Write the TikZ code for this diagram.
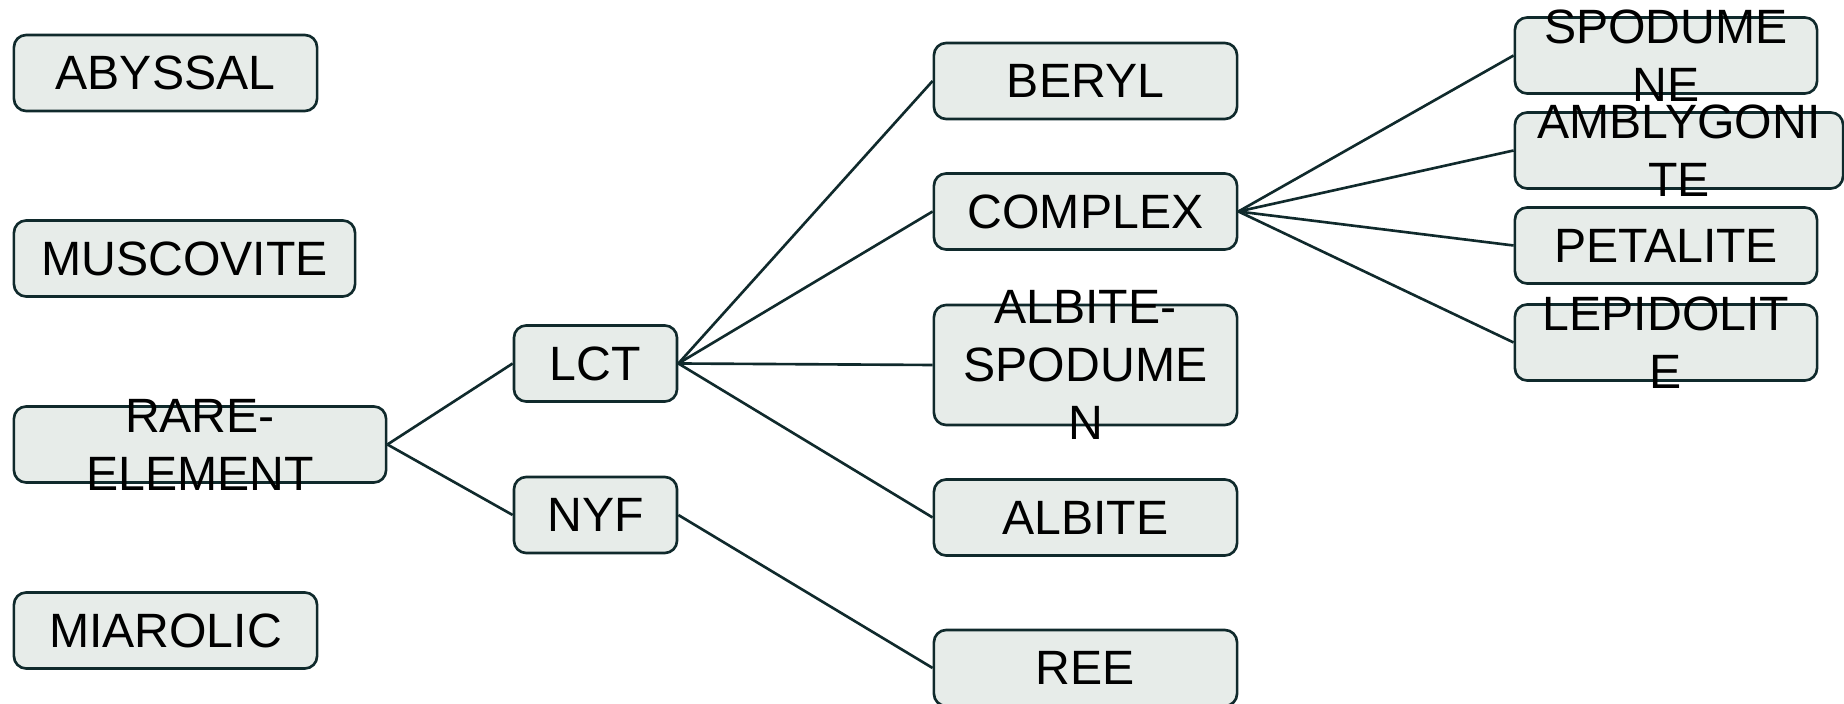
\documentclass[tikz,border=0pt]{standalone}
\usepackage{fontspec}
\setmainfont{Liberation Sans}
\usepackage{xcolor}
\usetikzlibrary{positioning}
\definecolor{dslate}{RGB}{16,42,44}
\definecolor{lsage} {RGB}{231,236,233}

\begin{document}
\begin{tikzpicture}[x=0.01cm, y=-0.01cm,
    tbox/.style={draw=dslate, fill=lsage, line width=0.75pt,
                 rounded corners=3.5pt, minimum height=0.76cm,
                 inner sep=0pt},
    lbl/.style={text=black, align=center, inner sep=0pt,
                font=\fontsize{13.7}{16.5}\selectfont},
    conn/.style={draw=dslate, line width=0.75pt}]
  \useasboundingbox (0,0) rectangle (1844,704);

  % pegmatite classes
  \node[tbox, minimum width=3.03cm, label={[lbl]center:ABYSSAL}]
       (abyssal) at (165.5,73) {};
  \node[tbox, minimum width=3.41cm, label={[lbl]center:MUSCOVITE}]
       (muscovite) at (184.5,258.5) {};
  \node[tbox, minimum width=3.72cm, label={[lbl]center:RARE-\\ELEMENT}]
       (rare) at (200,444.5) {};
  \node[tbox, minimum width=3.03cm, label={[lbl]center:MIAROLIC}]
       (miarolic) at (165.5,630.5) {};

  % families
  \node[tbox, minimum width=1.63cm, label={[lbl]center:LCT}]
       (lct) at (595.5,363.5) {};
  \node[tbox, minimum width=1.63cm, label={[lbl]center:NYF}]
       (nyf) at (595.5,515) {};

  % types
  \node[tbox, minimum width=3.03cm, label={[lbl]center:BERYL}]
       (beryl) at (1085.5,81) {};
  \node[tbox, minimum width=3.03cm, label={[lbl]center:COMPLEX}]
       (complex) at (1085.5,211.5) {};
  \node[tbox, minimum width=3.03cm, minimum height=1.2cm,
        label={[lbl]center:ALBITE-\\SPODUME\\N}]
       (albspod) at (1085.5,365) {};
  \node[tbox, minimum width=3.03cm, label={[lbl]center:ALBITE}]
       (albite) at (1085.5,517.5) {};
  \node[tbox, minimum width=3.03cm, label={[lbl]center:REE}]
       (ree) at (1085.5,668) {};

  % subtypes
  \node[tbox, minimum width=3.02cm, label={[lbl]center:SPODUME\\NE}]
       (spodumene) at (1666,55.5) {};
  \node[tbox, minimum width=3.28cm, label={[lbl]center:AMBLYGONI\\TE}]
       (amblygonite) at (1679,150.5) {};
  \node[tbox, minimum width=3.02cm, label={[lbl]center:PETALITE}]
       (petalite) at (1666,245.5) {};
  \node[tbox, minimum width=3.02cm, label={[lbl]center:LEPIDOLIT\\E}]
       (lepidolite) at (1666,342.5) {};

  % connectors
  \draw[conn] (rare.east) -- (lct.west);
  \draw[conn] (rare.east) -- (nyf.west);
  \foreach \t in {beryl, complex, albspod, albite}
    \draw[conn] (lct.east) -- (\t.west);
  \draw[conn] (nyf.east) -- (ree.west);
  \foreach \t in {spodumene, amblygonite, petalite, lepidolite}
    \draw[conn] (complex.east) -- (\t.west);
\end{tikzpicture}
\end{document}
